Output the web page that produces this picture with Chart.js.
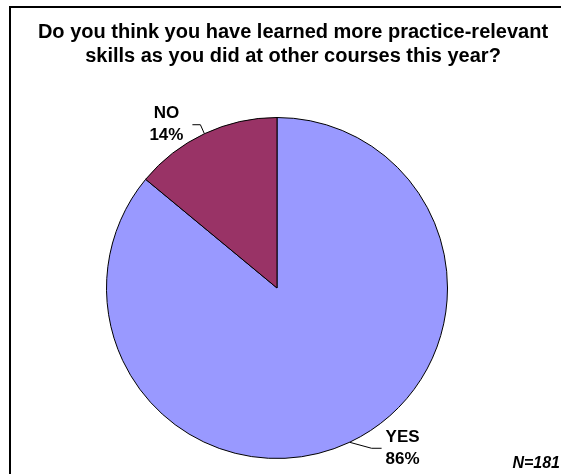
<!DOCTYPE html>
<html>
<head>
<meta charset="utf-8">
<script src="https://cdn.jsdelivr.net/npm/chart.js@4/dist/chart.umd.min.js"></script>
<style>
    html, body { margin: 0; padding: 0; background: #fff; overflow: hidden; }
    #wrap { position: relative; width: 561px; height: 474px; }
    #frame { position: absolute; left: 9px; top: 6px; width: 600px; height: 520px; border: 2px solid #000; box-sizing: border-box; }
    canvas { position: absolute; left: 0; top: 0; }
</style>
</head>
<body>
<div id="wrap">
    <div id="frame"></div>
    <canvas id="myPieChart" width="561" height="474"></canvas>
</div>
<script>
// Survey answers
const answers = ['YES', 'NO'];
const shares = [86, 14];
const sliceColors = ['#9999FF', '#993366'];
const titleLines = ['Do you think you have learned more practice-relevant', 'skills as you did at other courses this year?'];
const sampleNote = 'N=181';

// Title, sample size and the labels with leader lines
const surveyText = {
    id: 'surveyText',
    afterDatasetsDraw(chart, args, opts) {
        const ctx = chart.ctx;
        ctx.save();
        ctx.fillStyle = '#000';
        ctx.strokeStyle = '#000';
        ctx.textAlign = 'center';
        ctx.textBaseline = 'alphabetic';

        ctx.font = 'bold 20px "Liberation Sans", Arial, sans-serif';
        titleLines.forEach((line, i) => {
            ctx.fillText(line, opts.titleX, opts.titleY + i * opts.titleGap);
        });

        ctx.font = 'bold 17px "Liberation Sans", Arial, sans-serif';
        const meta = chart.getDatasetMeta(0);
        meta.data.forEach((arc, i) => {
            const mid = (arc.startAngle + arc.endAngle) / 2;
            const ex = arc.x + Math.cos(mid) * arc.outerRadius;
            const ey = arc.y + Math.sin(mid) * arc.outerRadius;
            const lead = opts.leaders[i];
            ctx.lineWidth = 1;
            ctx.beginPath();
            ctx.moveTo(ex, ey);
            ctx.lineTo(ex + lead.elbow[0], ey + lead.elbow[1]);
            ctx.lineTo(ex + lead.end[0], ey + lead.elbow[1]);
            ctx.stroke();
            ctx.fillText(answers[i], ex + lead.text[0], ey + lead.text[1]);
            ctx.fillText(shares[i] + '%', ex + lead.text[0], ey + lead.text[1] + 22);
        });

        ctx.font = 'italic bold 16px "Liberation Sans", Arial, sans-serif';
        ctx.textAlign = 'right';
        ctx.fillText(sampleNote, opts.noteX, opts.noteY);
        ctx.restore();
    }
};

const pieCtx = document.getElementById('myPieChart').getContext('2d');

const myPieChart = new Chart(pieCtx, {
    type: 'pie',
    data: {
        labels: answers,
        datasets: [{
            data: shares,
            backgroundColor: sliceColors,
            borderColor: '#000',
            borderWidth: 1
        }]
    },
    options: {
        responsive: false,
        animation: false,
        layout: {
            padding: { top: 117, bottom: 15, left: 0, right: 7 }
        },
        plugins: {
            legend: { display: false },
            tooltip: { enabled: false },
            surveyText: {
                titleX: 293,
                titleY: 38,
                titleGap: 24,
                noteX: 560,
                noteY: 468,
                leaders: [
                    { elbow: [22, 6], end: [32], text: [53, 0] },
                    { elbow: [-4, -9], end: [-12], text: [-38, -16] }
                ]
            }
        }
    },
    plugins: [surveyText]
});
</script>
</body>
</html>
